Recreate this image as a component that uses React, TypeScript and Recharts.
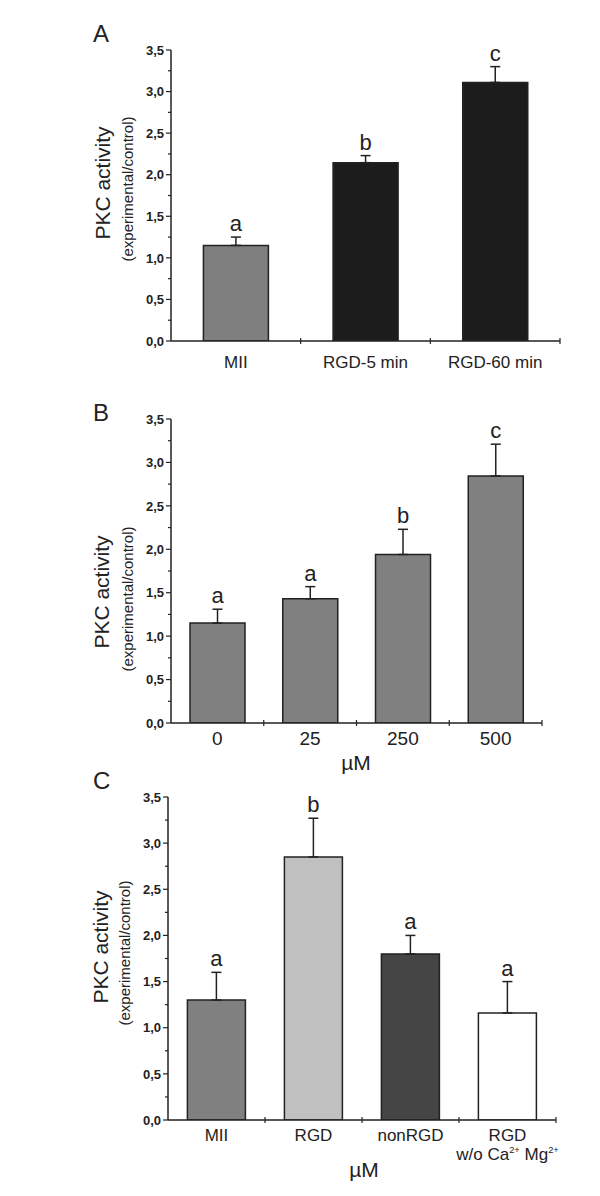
import React from "react";
import { Bar, BarChart, Cell, ErrorBar, LabelList, XAxis, YAxis } from "recharts";

const FONT = "'Liberation Sans', Arial, Helvetica, sans-serif";
const INK = "#222";

// shared y ticks (major every 0.5, minor every 0.25)
const Y_TICKS = [0, 0.25, 0.5, 0.75, 1, 1.25, 1.5, 1.75, 2, 2.25, 2.5, 2.75, 3, 3.25, 3.5];

// panel A
const A_CATS = ["MII", "RGD-5 min", "RGD-60 min"];
const A_VALUES = [1.15, 2.145, 3.11];
const A_ERRORS = [0.1, 0.085, 0.19];
const A_LETTERS = ["a", "b", "c"];
const A_COLORS = ["#7f7f7f", "#1c1c1c", "#1c1c1c"];

// panel B
const B_CATS = ["0", "25", "250", "500"];
const B_VALUES = [1.15, 1.43, 1.94, 2.845];
const B_ERRORS = [0.16, 0.14, 0.29, 0.365];
const B_LETTERS = ["a", "a", "b", "c"];
const B_COLORS = ["#808080", "#808080", "#808080", "#808080"];

// panel C
const C_CATS = ["MII", "RGD", "nonRGD", "RGD\nw/o Ca^2+ Mg^2+"];
const C_VALUES = [1.3, 2.85, 1.8, 1.16];
const C_ERRORS = [0.3, 0.42, 0.2, 0.34];
const C_LETTERS = ["a", "b", "a", "a"];
const C_COLORS = ["#808080", "#c0c0c0", "#454545", "#ffffff"];

const fmt = (v: number) => v.toFixed(1).replace(".", ",");

function YTick(props: any) {
  const { x, y, payload } = props;
  const v = Number(payload.value);
  const major = Math.round(v * 100) % 50 === 0;
  return (
    <g>
      <line x1={x - (major ? 5 : 3)} x2={x} y1={y} y2={y} stroke={INK} strokeWidth={1.2} />
      {major && (
        <text x={x - 7} y={y} dy="0.36em" textAnchor="end" fontFamily={FONT} fontWeight="bold" fontSize={13} fill={INK}>
          {fmt(v)}
        </text>
      )}
    </g>
  );
}

// "Ca^2+" -> Ca with superscript 2+
function richLine(s: string, size: number) {
  const parts = s.split(/\^(\S+)/);
  const out: React.ReactNode[] = [];
  let up = false;
  parts.forEach((p, i) => {
    if (!p) return;
    if (i % 2 === 1) {
      out.push(<tspan key={i} fontSize={size * 0.55} dy={-size * 0.42}>{p}</tspan>);
      up = true;
    } else {
      out.push(<tspan key={i} dy={up ? size * 0.42 : 0}>{p}</tspan>);
      up = false;
    }
  });
  return out;
}

function XTick(props: any) {
  const { x, y, payload, half, size, lines } = props;
  const off = payload.offset ?? half;
  const rows = String(payload.value).split("\n");
  return (
    <g>
      <line x1={x + off} x2={x + off} y1={y - 3} y2={y + 3} stroke={INK} strokeWidth={1.2} />
      {rows.map((r, i) => (
        <text key={i} x={x} y={y + lines[i]} textAnchor="middle" fontFamily={FONT} fontSize={size} fill={INK}>
          {richLine(r, size)}
        </text>
      ))}
    </g>
  );
}

type PanelProps = {
  top: number;
  height: number;
  cats: string[];
  values: number[];
  errors: number[];
  letters: string[];
  colors: string[];
  margin: { top: number; right: number; bottom: number; left: number };
  yWidth: number;
  xHeight: number;
  gap: string;
  tickSize: number;
  lines: number[];
  letter: string;
  letterPos: [number, number];
  titlePos: [number, number];
  subPos: [number, number];
  unitPos?: [number, number];
};

function Panel(p: PanelProps) {
  const rows = p.cats.map((c, i) => ({
    name: c,
    value: p.values[i],
    err: [0, p.errors[i]],
    letter: p.letters[i],
  }));
  const plotW = 600 - p.margin.left - p.margin.right - p.yWidth;
  const half = plotW / p.cats.length / 2;

  const renderLetter = (lp: any) => {
    const vb = lp.viewBox ?? lp;
    const i = lp.index ?? 0;
    const d = rows[i];
    const x = Number(vb.x), y = Number(vb.y), w = Number(vb.width), h = Number(vb.height);
    const errTop = y - (d.err[1] * h) / d.value;
    return (
      <text x={x + w / 2} y={errTop - 6} textAnchor="middle" fontFamily={FONT} fontSize={22} fill={INK}>
        {d.letter}
      </text>
    );
  };

  return (
    <div style={{ position: "absolute", left: 0, top: p.top, width: 600, height: p.height }}>
      <BarChart width={600} height={p.height} data={rows} margin={p.margin} barCategoryGap={p.gap}>
        <XAxis
          dataKey="name"
          interval={0}
          height={p.xHeight}
          tickLine={false}
          tickSize={0}
          tickMargin={0}
          axisLine={{ stroke: INK, strokeWidth: 1.5 }}
          tick={(tp: any) => <XTick {...tp} half={half} size={p.tickSize} lines={p.lines} />}
        />
        <YAxis
          type="number"
          domain={[0, 3.5]}
          ticks={Y_TICKS}
          interval={0}
          width={p.yWidth}
          tickLine={false}
          tickSize={0}
          tickMargin={0}
          allowDataOverflow
          axisLine={{ stroke: INK, strokeWidth: 1.5 }}
          tick={(tp: any) => <YTick {...tp} />}
        />
        <Bar dataKey="value" stroke={INK} strokeWidth={1.5} isAnimationActive={false}>
          {rows.map((r, i) => (
            <Cell key={r.name} fill={p.colors[i]} />
          ))}
          <ErrorBar dataKey="err" direction="y" width={5} stroke={INK} strokeWidth={1.5} />
          <LabelList dataKey="letter" content={renderLetter} />
        </Bar>
      </BarChart>
      <svg width={600} height={p.height} style={{ position: "absolute", left: 0, top: 0, pointerEvents: "none" }}>
        <text x={p.letterPos[0]} y={p.letterPos[1]} fontFamily={FONT} fontSize={24} fill={INK}>
          {p.letter}
        </text>
        <text
          x={p.titlePos[0]}
          y={p.titlePos[1]}
          transform={`rotate(-90 ${p.titlePos[0]} ${p.titlePos[1]})`}
          textAnchor="middle"
          dominantBaseline="central"
          fontFamily={FONT}
          fontSize={21}
          fill={INK}
        >
          PKC activity
        </text>
        <text
          x={p.subPos[0]}
          y={p.subPos[1]}
          transform={`rotate(-90 ${p.subPos[0]} ${p.subPos[1]})`}
          textAnchor="middle"
          dominantBaseline="central"
          fontFamily={FONT}
          fontSize={15}
          fill={INK}
        >
          (experimental/control)
        </text>
        {p.unitPos && (
          <text x={p.unitPos[0]} y={p.unitPos[1]} textAnchor="middle" fontFamily={FONT} fontSize={21} fill={INK}>
            µM
          </text>
        )}
      </svg>
    </div>
  );
}

export default function App() {
  return (
    <div style={{ position: "absolute", left: 0, top: 0, width: 600, height: 1196, background: "#fff" }}>
      <Panel
        top={0}
        height={380}
        cats={A_CATS}
        values={A_VALUES}
        errors={A_ERRORS}
        letters={A_LETTERS}
        colors={A_COLORS}
        margin={{ top: 50, right: 40, bottom: 9, left: 0 }}
        yWidth={171}
        xHeight={30}
        gap="25%"
        tickSize={17}
        lines={[27]}
        letter="A"
        letterPos={[93, 42]}
        titlePos={[102, 183]}
        subPos={[127, 189]}
      />
      <Panel
        top={390}
        height={390}
        cats={B_CATS}
        values={B_VALUES}
        errors={B_ERRORS}
        letters={B_LETTERS}
        colors={B_COLORS}
        margin={{ top: 29, right: 58, bottom: 7, left: 0 }}
        yWidth={171}
        xHeight={50}
        gap="20.5%"
        tickSize={19}
        lines={[22]}
        letter="B"
        letterPos={[93, 31]}
        titlePos={[101, 202]}
        subPos={[127, 209]}
        unitPos={[356, 380]}
      />
      <Panel
        top={760}
        height={436}
        cats={C_CATS}
        values={C_VALUES}
        errors={C_ERRORS}
        letters={C_LETTERS}
        colors={C_COLORS}
        margin={{ top: 37, right: 44, bottom: 11, left: 0 }}
        yWidth={168}
        xHeight={65}
        gap="20%"
        tickSize={17}
        lines={[21, 40]}
        letter="C"
        letterPos={[93, 29]}
        titlePos={[100, 187]}
        subPos={[124, 193]}
        unitPos={[364, 417]}
      />
    </div>
  );
}
